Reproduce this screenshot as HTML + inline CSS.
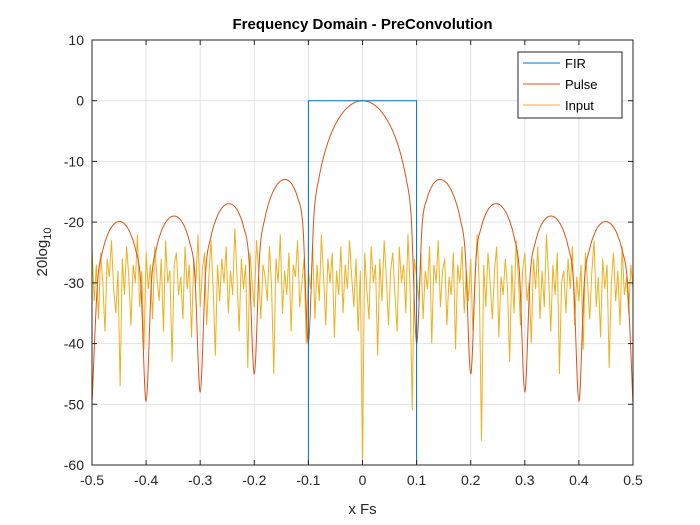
<!DOCTYPE html>
<html>
<head>
<meta charset="utf-8">
<style>
  html,body{margin:0;padding:0;background:#fff;}
  svg{display:block;font-family:"Liberation Sans",Arial,sans-serif;}
</style>
</head>
<body>
<svg id="chart" width="700" height="525" viewBox="0 0 700 525"></svg>
<script>
// ---- data ----
const xTicks = [-0.5,-0.4,-0.3,-0.2,-0.1,0,0.1,0.2,0.3,0.4,0.5];
const xTickLabels = ["-0.5","-0.4","-0.3","-0.2","-0.1","0","0.1","0.2","0.3","0.4","0.5"];
const yTicks = [10,0,-10,-20,-30,-40,-50,-60];
const yTickLabels = ["10","0","-10","-20","-30","-40","-50","-60"];

const firFreq = [-0.5,-0.1,-0.1,0.1,0.1,0.5];
const firDb = [-60,-60,0,0,-60,-60];

const pulseHalfFreq = [0,0.01,0.02,0.03,0.04,0.05,0.06,0.07,0.08,0.09,0.10,0.11,0.12,0.13,0.14,0.15,0.16,0.17,0.18,0.19,0.20,0.21,0.22,0.23,0.24,0.25,0.26,0.27,0.28,0.29,0.30,0.31,0.32,0.33,0.34,0.35,0.36,0.37,0.38,0.39,0.40,0.41,0.42,0.43,0.44,0.45,0.46,0.47,0.48,0.49,0.50];
const pulseHalfDb = [0,-0.14,-0.57,-1.31,-2.40,-3.89,-5.89,-8.61,-12.53,-19.11,-40,-20.80,-15.93,-13.82,-13.02,-13.14,-14.09,-15.98,-19.20,-25.20,-45,-25.95,-20.70,-18.25,-17.14,-16.99,-17.69,-19.34,-22.35,-28.16,-48,-28.55,-23.15,-20.54,-19.29,-19.00,-19.57,-21.09,-23.98,-29.67,-49.5,-29.85,-24.34,-21.63,-20.28,-19.89,-20.37,-21.80,-24.60,-30.20,-50];

const inputStart = -0.5;
const inputStep = 0.004;
const inputDb = [
-24,-33,-27,-36,-25,-30,-38,-26,-29,-23,
-31,-35,-28,-47,-26,-32,-24,-29,-37,-27,
-30,-22,-34,-28,-41,-25,-31,-27,-36,-24,
-29,-33,-26,-38,-23,-30,-28,-43,-27,-25,
-32,-29,-36,-24,-31,-27,-39,-26,-30,-22,
-34,-28,-25,-37,-29,-23,-31,-42,-27,-33,
-26,-30,-24,-35,-28,-32,-21,-29,-38,-26,
-31,-27,-44,-25,-30,-34,-23,-28,-36,-27,
-29,-33,-24,-31,-45,-26,-30,-22,-35,-28,
-32,-25,-38,-27,-29,-23,-34,-30,-26,-40,
-28,-31,-24,-36,-27,-33,-22,-29,-37,-26,
-30,-25,-39,-28,-32,-24,-35,-27,-31,-23,
-29,-34,-26,-38,-28,-60,-25,-31,-36,-24,
-30,-27,-42,-26,-33,-23,-29,-37,-28,-25,
-32,-38,-24,-30,-27,-35,-22,-31,-51,-26,
-29,-33,-25,-36,-28,-31,-24,-40,-27,-30,
-23,-34,-28,-26,-37,-29,-32,-25,-41,-27,
-30,-24,-35,-28,-33,-26,-38,-29,-22,-31,
-56,-27,-34,-25,-30,-36,-28,-24,-39,-29,
-32,-26,-31,-43,-27,-35,-23,-29,-37,-28,
-25,-33,-30,-40,-26,-31,-24,-36,-28,-34,
-22,-29,-38,-27,-32,-25,-45,-30,-28,-35,
-26,-31,-24,-37,-29,-33,-27,-41,-25,-30,
-36,-28,-23,-34,-29,-39,-26,-31,-27,-44,
-30,-25,-33,-28,-37,-24,-32,-29,-35,-27,
-31];

// ---- layout ----
const L=92,R=633,T=40,B=465;
const xMin=-0.5,xMax=0.5,yMin=-60,yMax=10;
const sx=v=>L+(v-xMin)/(xMax-xMin)*(R-L);
const sy=v=>B-(v-yMin)/(yMax-yMin)*(B-T);
const NS="http://www.w3.org/2000/svg";
const svg=document.getElementById('chart');
function mk(tag,attrs,parent){const e=document.createElementNS(NS,tag);for(const k in attrs)e.setAttribute(k,attrs[k]);(parent||svg).appendChild(e);return e;}
const clip=v=>Math.max(yMin,Math.min(yMax,v));

// background
const bg=mk('rect',{x:L,y:T,width:R-L,height:B-T,fill:'#fff'});



// grid
const grid=mk('g',{stroke:'#e3e3e3','stroke-width':1});


xTicks.forEach(t=>mk('line',{x1:sx(t),x2:sx(t),y1:T,y2:B},grid));
yTicks.forEach(t=>mk('line',{x1:L,x2:R,y1:sy(t),y2:sy(t)},grid));

// clip
const defs=mk('defs',{});
const cp=mk('clipPath',{id:'pc'},defs);
mk('rect',{x:L,y:T,width:R-L,height:B-T},cp);

// input series
let pts=inputDb.map((d,i)=>sx(inputStart+i*inputStep).toFixed(2)+','+sy(clip(d)).toFixed(2)).join(' ');
const inp=mk('polyline',{points:pts,fill:'none',stroke:'#EDB120','stroke-width':1,'clip-path':'url(#pc)'});



// pulse series (mirror half data)
const pf=[],pd=[];
for(let i=pulseHalfFreq.length-1;i>0;i--){pf.push(-pulseHalfFreq[i]);pd.push(pulseHalfDb[i]);}
for(let i=0;i<pulseHalfFreq.length;i++){pf.push(pulseHalfFreq[i]);pd.push(pulseHalfDb[i]);}
const P=pf.map((f,i)=>[sx(f),sy(clip(pd[i]))]);
let d='M'+P[0][0]+','+P[0][1];
for(let i=0;i<P.length-1;i++){
  const p0=P[i-1]||P[i],p1=P[i],p2=P[i+1],p3=P[i+2]||P[i+1];
  const c1x=p1[0]+(p2[0]-p0[0])/6,c1y=p1[1]+(p2[1]-p0[1])/6;
  const c2x=p2[0]-(p3[0]-p1[0])/6,c2y=p2[1]-(p3[1]-p1[1])/6;
  d+=` C${c1x.toFixed(2)},${c1y.toFixed(2)} ${c2x.toFixed(2)},${c2y.toFixed(2)} ${p2[0].toFixed(2)},${p2[1].toFixed(2)}`;
}
const pul=mk('path',{d:d,fill:'none',stroke:'#D95319','stroke-width':1,'clip-path':'url(#pc)'});



// FIR series
const fir=mk('polyline',{points:firFreq.map((f,i)=>sx(f)+','+sy(firDb[i])).join(' '),fill:'none',stroke:'#0072BD','stroke-width':1});



// axes box
const box=mk('rect',{x:L,y:T,width:R-L,height:B-T,fill:'none',stroke:'#262626','stroke-width':1});



// ticks & labels
xTicks.forEach((t,i)=>{
  mk('line',{x1:sx(t),x2:sx(t),y1:B,y2:B-5,stroke:'#262626'});
  mk('line',{x1:sx(t),x2:sx(t),y1:T,y2:T+5,stroke:'#262626'});
  const tx=mk('text',{x:sx(t),y:B+20,'text-anchor':'middle','font-size':14,fill:'#262626'});
  tx.textContent=xTickLabels[i];
  
  
});
yTicks.forEach((t,i)=>{
  mk('line',{x1:L,x2:L+5,y1:sy(t),y2:sy(t),stroke:'#262626'});
  mk('line',{x1:R,x2:R-5,y1:sy(t),y2:sy(t),stroke:'#262626'});
  const tx=mk('text',{x:L-8,y:sy(t)+5,'text-anchor':'end','font-size':14,fill:'#262626'});
  tx.textContent=yTickLabels[i];
  
  
});

// title & axis labels
const title=mk('text',{x:(L+R)/2,y:29,'text-anchor':'middle','font-size':15,'font-weight':'bold',fill:'#000'});
title.textContent='Frequency Domain - PreConvolution';



const xl=mk('text',{x:(L+R)/2,y:514,'text-anchor':'middle','font-size':15,fill:'#262626'});
xl.textContent='x Fs';



const yl=mk('text',{x:0,y:0,'text-anchor':'middle','font-size':15,fill:'#262626',transform:'translate(47,252) rotate(-90)'});
yl.innerHTML='20log<tspan font-size="11" dy="4">10</tspan>';



// legend
const lg=mk('g',{});


mk('rect',{x:518,y:52,width:104,height:66,fill:'#fff',stroke:'#262626','stroke-width':1},lg);
const entries=[['FIR','#0072BD'],['Pulse','#D95319'],['Input','#EDB120']];
entries.forEach((e,i)=>{
  const y=63+i*21;
  const g=mk('g',{},lg);
  
  
  mk('line',{x1:523,x2:560,y1:y,y2:y,stroke:e[1],'stroke-width':1},g);
  const t=mk('text',{x:565,y:y+5,'font-size':13,fill:'#000'},g);
  t.textContent=e[0];
});
</script>
</body>
</html>
